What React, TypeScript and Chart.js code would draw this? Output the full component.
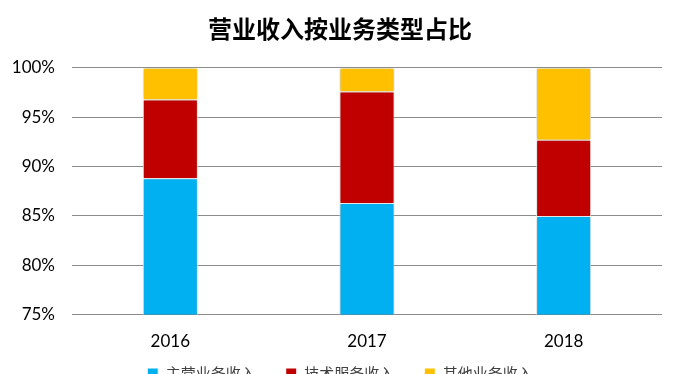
import React, { useEffect, useRef } from "react";
import { Chart, registerables } from "chart.js";

Chart.register(...registerables);

const categories = ["2016", "2017", "2018"];
const seriesNames = ["主营业务收入", "技术服务收入", "其他业务收入"];
const blueValues = [88.8, 86.3, 85.0];
const redValues = [8.0, 11.3, 7.7];
const yellowValues = [3.2, 2.4, 7.3];
const colors = ["#00B0F0", "#C00000", "#FFC000"];

const LEGEND_PAD = 30;
const BASE_PAD = 5;

const layoutPlugin = {
  id: "layoutTweaks",
  afterLayout(chart: any) {
    // let the y tick labels use the space left of the axis box
    chart.scales.y.left = 0;
    // keep the legend row where a small padding would put it
    const shift = LEGEND_PAD - BASE_PAD;
    if (chart.legend) {
      chart.legend.top -= shift;
      chart.legend.bottom -= shift;
    }
  },
  beforeDatasetDraw(chart: any) {
    const ctx = chart.ctx;
    ctx.save();
    ctx.shadowColor = "rgba(0,0,0,0.25)";
    ctx.shadowBlur = 4;
    ctx.shadowOffsetX = 0;
    ctx.shadowOffsetY = 0;
  },
  afterDatasetDraw(chart: any) {
    chart.ctx.restore();
  },
};

export default function App() {
  const ref = useRef<HTMLCanvasElement>(null);
  useEffect(() => {
    document.body.style.margin = "0";
    document.body.style.overflow = "hidden";
    const chart = new Chart(ref.current!, {
      type: "bar",
      data: {
        labels: categories,
        datasets: [blueValues, redValues, yellowValues].map((d, i) => ({
          label: seriesNames[i],
          data: d,
          backgroundColor: colors[i],
          borderColor: "#ffffff",
          borderWidth: 1,
          barPercentage: 0.56,
          categoryPercentage: 0.5,
        })),
      },
      options: {
        animation: false,
        responsive: false,
        maintainAspectRatio: false,
        layout: {
          padding: { left: 18, right: 19, top: 0, bottom: -(LEGEND_PAD - BASE_PAD) - 2 },
        },
        plugins: {
          title: {
            display: true,
            text: "营业收入按业务类型占比",
            color: "#000",
            font: { family: "'Noto Sans CJK SC'", size: 24, weight: "bold" },
            padding: { top: 14, bottom: 25 },
          },
          legend: {
            position: "bottom",
            labels: {
              boxWidth: 11,
              boxHeight: 11,
              color: "#404040",
              font: { family: "'Noto Sans CJK SC'", size: 15 },
              padding: LEGEND_PAD,
            },
          },
          tooltip: { enabled: false },
        },
        scales: {
          x: {
            stacked: true,
            grid: { display: false },
            border: { display: false },
            ticks: { color: "#000", font: { family: "Lato", size: 17 }, padding: 9 },
          },
          y: {
            stacked: true,
            min: 75,
            max: 100,
            afterFit: (scale: any) => {
              scale.width = 54;
            },
            grid: { color: "#8c8c8c", drawTicks: false },
            border: { display: false },
            ticks: {
              stepSize: 5,
              color: "#000",
              font: { family: "Lato", size: 17 },
              padding: 17,
              callback: (v: any) => v + "%",
            },
          },
        },
      },
      plugins: [layoutPlugin],
    });
    return () => chart.destroy();
  }, []);
  return (
    <div style={{ position: "absolute", left: 0, top: 0, width: 681, height: 389 }}>
      <canvas ref={ref} width={681} height={389} style={{ width: 681, height: 389 }} />
    </div>
  );
}
